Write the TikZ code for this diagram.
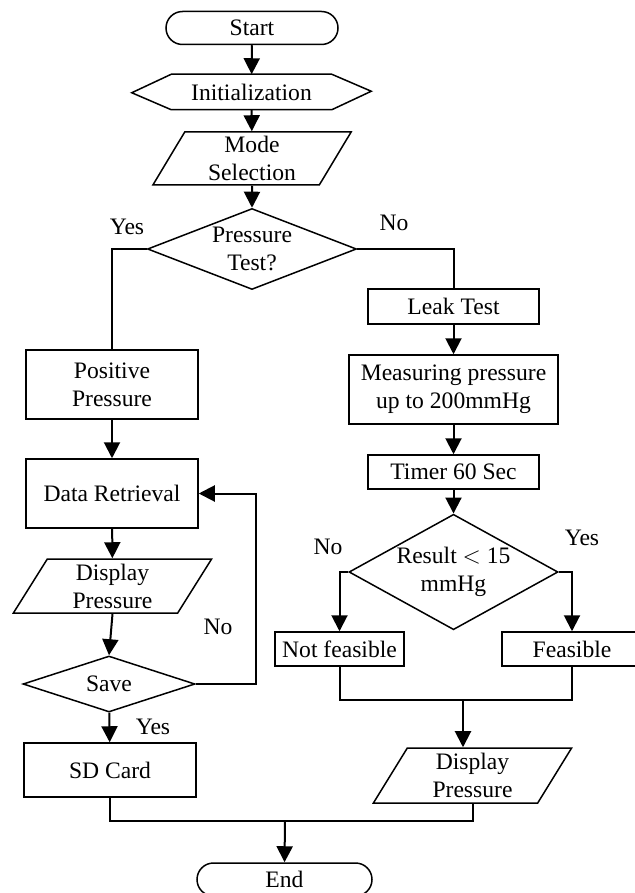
\documentclass[tikz,border=0pt]{standalone}
\usepackage{fontspec}
\setmainfont{Liberation Serif}
\usetikzlibrary{arrows.meta, calc, positioning, shapes.geometric}

\tikzset{
  base/.style={draw, line width=0.75pt, inner sep=0pt, align=center, font=\fontsize{11.8}{14}\selectfont},
  terminal/.style={base, rectangle, rounded corners=8.25pt, minimum width=86pt, minimum height=16.5pt},
  procbox/.style={base, rectangle},
  iobox/.style={base, trapezium, trapezium left angle=65, trapezium right angle=115, trapezium stretches=true, minimum width=99.5pt},
  decide/.style={base, diamond, inner xsep=-8pt, inner ysep=-4pt},
  flow/.style={line width=1pt, -{Triangle[length=8pt, width=8pt]}},
  link/.style={line width=1pt},
  txt/.style={font=\fontsize{11.8}{14}\selectfont}
}

\begin{document}
\begin{tikzpicture}[x=0.5pt, y=-0.5pt]
\useasboundingbox (0,0) rectangle (635,893);

% Top of the chart
\node[terminal] (start) at (252,28) {Start};
\node[base, minimum width=79.5pt, minimum height=17pt, draw=none] (init) at (251.5,92) {Initialization};
\draw[line width=0.75pt] (init.north west) -- (init.north east) -- ++(39.5,17) -- (init.south east)
   -- (init.south west) -- ++(-39.5,-17) -- cycle;
\node[iobox, minimum height=26.5pt] (mode) at (252,158.5) {Mode\\Selection};
\node[decide, minimum width=104.5pt, minimum height=40.5pt] (ptest) at (252,249) {Pressure\\Test?};

% Left branch: pressure test
\node[procbox, minimum width=86pt, minimum height=34.5pt] (pos) at (112,384.5) {Positive\\Pressure};
\node[procbox, minimum width=86pt, minimum height=34.5pt] (data) at (112,493.5) {Data Retrieval};
\node[iobox, minimum height=27pt] (disp1) at (112.5,586) {Display\\Pressure};
\node[decide, minimum width=86pt, minimum height=28pt] (save) at (109,684) {Save};
\node[procbox, minimum width=86pt, minimum height=27pt] (sd) at (110,770) {SD Card};

% Right branch: leak test
\node[procbox, minimum width=85.5pt, minimum height=17.5pt] (leak) at (453.5,306.5) {Leak Test};
\node[procbox, minimum width=104.5pt, minimum height=34.5pt] (meas) at (453.5,389.5) {Measuring pressure\\up to 200mmHg};
\node[procbox, minimum width=85.5pt, minimum height=17pt] (timer) at (453.5,472) {Timer 60 Sec};
\node[decide, minimum width=104.5pt, minimum height=51pt] (result) at (453.5,572) {Result $<$ 15\\mmHg};
\node[procbox, minimum width=64.5pt, minimum height=17pt] (notf) at (339.5,649) {Not feasible};
\node[procbox, minimum width=70pt, minimum height=17pt] (feas) at (572,649) {Feasible};
\node[iobox, minimum height=27.5pt] (disp2) at (472.5,775.5) {Display\\Pressure};

% End
\node[terminal, minimum width=87.5pt] (end) at (284.5,879.5) {End};

% Labels
\node[txt] (yes1) at (127,227) {Yes};
\node[txt] (no1) at (394,223) {No};
\node[txt] (no2) at (328,547) {No};
\node[txt] (yes2) at (582,538) {Yes};
\node[txt] (no3) at (218,627) {No};
\node[txt] (yes3) at (153,727) {Yes};

\coordinate (mrg) at (463,700);
\coordinate (join) at (285,821);

% Connectors
\draw[flow] (start) -- (init);
\draw[flow] (init) -- (mode);
\draw[flow] (mode) -- (ptest);
\draw[link] (ptest.west) -| (pos.north);
\draw[link] (ptest.east) -| (leak.north);
\draw[flow] (pos) -- (data);
\draw[flow] (data) -- (disp1);
\draw[flow] (disp1.south) -- (save.north);
\draw[flow] (save.east) -- ++(60,0) |- (data.east);
\draw[flow] (save) -- (sd);
\draw[flow] (leak) -- (meas);
\draw[flow] (meas) -- (timer);
\draw[flow] (timer) -- (result);
\draw[flow] (result.west) -| (notf.north);
\draw[flow] (result.east) -| (feas.north);
\draw[link] (notf.south) |- (mrg) -| (feas.south);
\draw[flow] (mrg) -- (mrg |- disp2.north);
\draw[link] (sd.south) |- (join);
\draw[link] (disp2.south) |- (join);
\draw[flow] (join) -- (end.north);
\end{tikzpicture}
\end{document}
